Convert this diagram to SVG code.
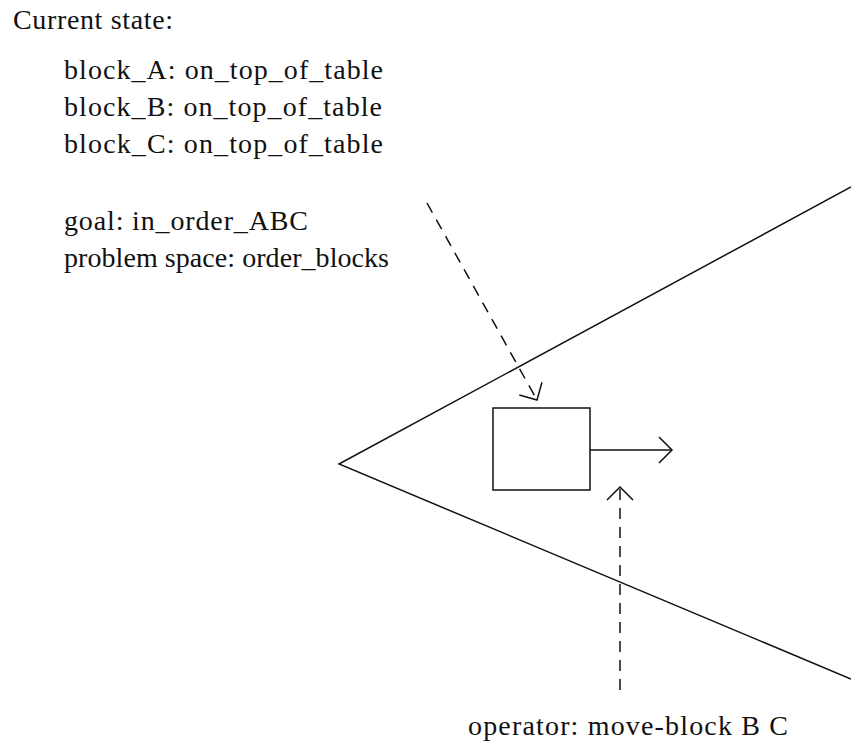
<svg xmlns="http://www.w3.org/2000/svg" width="851" height="741" viewBox="0 0 851 741">
  <style>
    .t { font-family: "Liberation Serif", "Times New Roman", serif; font-size: 28px; fill: #111; }
    .ln { stroke: #111; stroke-width: 1.5; fill: none; }
    .dash { stroke: #111; stroke-width: 1.5; fill: none; stroke-dasharray: 11 8; }
  </style>
  <defs>
    <marker id="open" markerUnits="userSpaceOnUse" orient="auto" refX="0" refY="0" markerWidth="30" markerHeight="30" overflow="visible">
      <path d="M-13,-13 L0,0 L-13,13" fill="none" stroke="#111" stroke-width="1.5" stroke-dasharray="none"/>
    </marker>
  </defs>
  <rect width="851" height="741" fill="#fff"/>

  <g id="state-text">
    <text class="t" x="13" y="29" textLength="160">Current state:</text>
    <text class="t" x="64" y="79" textLength="319">block_A: on_top_of_table</text>
    <text class="t" x="64" y="116" textLength="318">block_B: on_top_of_table</text>
    <text class="t" x="64" y="153" textLength="319">block_C: on_top_of_table</text>
    <text class="t" x="64" y="230" textLength="244">goal: in_order_ABC</text>
    <text class="t" x="64" y="267" textLength="325">problem space: order_blocks</text>
  </g>

  <g id="wedge">
    <polyline class="ln" points="851,187 339,464 851,679"/>
  </g>

  <g id="box">
    <rect class="ln" x="493" y="408" width="97" height="82"/>
  </g>

  <g id="operator-label">
    <text class="t" x="468" y="735" textLength="320">operator: move-block B C</text>
  </g>

  <g id="connectors">
    <line class="dash" x1="427" y1="203" x2="537" y2="400" marker-end="url(#open)"/>
    <line class="ln" x1="590" y1="450" x2="672" y2="450" marker-end="url(#open)"/>
    <line class="dash" x1="620" y1="690" x2="620" y2="487" marker-end="url(#open)"/>
  </g>
</svg>
